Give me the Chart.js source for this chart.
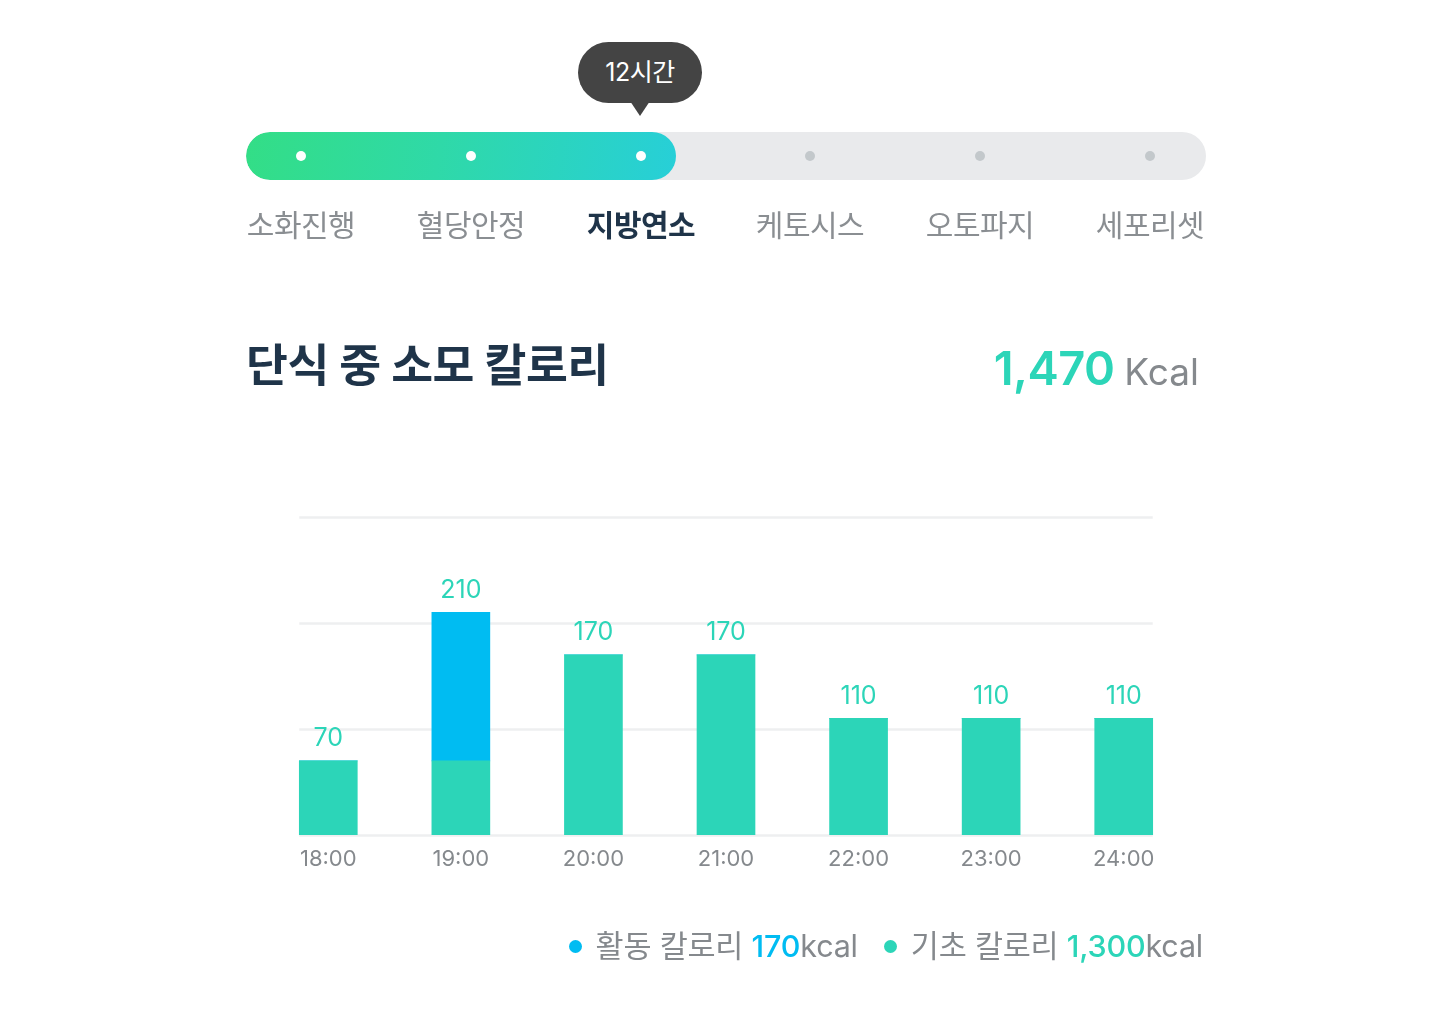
<!DOCTYPE html>
<html lang="ko">
<head>
<meta charset="utf-8">
<script src="https://cdn.jsdelivr.net/npm/chart.js@4/dist/chart.umd.min.js"></script>
<style>
  html,body{margin:0;padding:0;background:#fff;}
  body{width:1452px;height:1020px;position:relative;overflow:hidden;font-family:"Inter","Noto Sans CJK KR","Noto Sans",sans-serif;}
  #wrap{position:absolute;left:0;top:0;width:1452px;height:1020px;}
  .abs{position:absolute;}
  #bubble{left:578px;top:42px;width:124px;height:61px;border-radius:31px;background:#444;color:#fff;font-size:25px;line-height:61px;text-align:center;letter-spacing:-0.5px;}
  #arrow{left:630px;top:101px;width:0;height:0;border-left:10px solid transparent;border-right:10px solid transparent;border-top:15px solid #444;}
  #track{left:246px;top:132px;width:960px;height:48px;border-radius:24px;background:#e9eaec;overflow:hidden;}
  #fill{left:0;top:0;height:48px;border-radius:24px;background:linear-gradient(100deg,#33de86 0%,#2fd9a8 45%,#27cfd8 100%);}
  .dot{width:10px;height:10px;border-radius:50%;top:151px;}
  .stage{top:204px;font-size:30px;line-height:42px;color:#8a8e92;transform:translateX(-50%);white-space:nowrap;letter-spacing:-0.5px;}
  .stage.on{color:#1f3449;font-weight:700;}
  #title{left:246px;top:336px;font-size:45.5px;font-weight:700;color:#1f3449;line-height:60px;letter-spacing:-0.4px;}
  #total{right:253px;top:336px;line-height:64px;white-space:nowrap;}
  #total .num{font-size:47px;font-weight:600;color:#2cd5b8;letter-spacing:-0.6px;}
  #total .unit{font-size:37px;color:#85898d;margin-left:10px;}
  #legend{right:249px;top:924px;font-size:30.5px;line-height:44px;color:#85898d;white-space:nowrap;letter-spacing:-0.2px;}
  #legend .ld{display:inline-block;width:13px;height:13px;border-radius:50%;margin-right:14px;vertical-align:4px;}
  #legend .v{font-weight:500;}
</style>
</head>
<body>
<div id="wrap">
  <canvas id="c" width="1452" height="1020"></canvas>
</div>
<div id="bubble" class="abs"></div>
<div id="arrow" class="abs"></div>
<div id="track" class="abs"><div id="fill" class="abs"></div></div>
<div id="title" class="abs">단식 중 소모 칼로리</div>
<div id="total" class="abs"></div>
<div id="legend" class="abs"></div>
<script>
// ---- data ----
const stages = ['소화진행','혈당안정','지방연소','케토시스','오토파지','세포리셋'];
const activeStage = 2;
const elapsedLabel = '12시간';
const categories = ['18:00','19:00','20:00','21:00','22:00','23:00','24:00'];
const basalValues = [70, 70, 170, 170, 110, 110, 110];
const activeValues = [0, 140, 0, 0, 0, 0, 0];
const yTicks = [0, 100, 200, 300];
const totalKcal = '1,470';
const activeKcal = '170';
const basalKcal = '1,300';

const TEAL = '#2cd5b8', BLUE = '#00bcf2';
const FONT = '"Inter", "Noto Sans CJK KR", "Noto Sans", sans-serif';

// ---- progress header ----
const stageX = [301, 471, 641, 810, 980, 1150];
document.getElementById('bubble').textContent = elapsedLabel;
document.getElementById('fill').style.width = (676 - 246) + 'px';
stages.forEach((s, i) => {
  const d = document.createElement('div');
  d.className = 'abs dot';
  d.style.left = (stageX[i] - 5) + 'px';
  d.style.background = i <= activeStage ? '#ffffff' : '#c3c8cb';
  document.body.appendChild(d);
  const t = document.createElement('div');
  t.className = 'abs stage' + (i === activeStage ? ' on' : '');
  t.style.left = stageX[i] + 'px';
  t.textContent = s;
  document.body.appendChild(t);
});
document.getElementById('total').innerHTML = '<span class="num">' + totalKcal + '</span><span class="unit">Kcal</span>';
document.getElementById('legend').innerHTML =
  '<span class="ld" style="background:' + BLUE + '"></span>활동 칼로리 <span class="v" style="color:' + BLUE + '">' + activeKcal + '</span>kcal' +
  '<span style="display:inline-block;width:26px"></span>' +
  '<span class="ld" style="background:' + TEAL + '"></span>기초 칼로리 <span class="v" style="color:' + TEAL + '">' + basalKcal + '</span>kcal';

// ---- chart ----
const BAR_W = 58;
const gridPlugin = {
  id: 'gridAndLabels',
  beforeDatasetsDraw(chart) {
    const ctx = chart.ctx, x = chart.scales.x, y = chart.scales.y;
    const l = x.getPixelForValue(0) - BAR_W / 2;
    const r = x.getPixelForValue(categories.length - 1) + BAR_W / 2;
    ctx.save();
    ctx.strokeStyle = '#eeeff0';
    ctx.lineWidth = 2.5;
    yTicks.forEach(v => {
      const py = Math.round(y.getPixelForValue(v)) + 0.5;
      ctx.beginPath(); ctx.moveTo(l, py); ctx.lineTo(r, py); ctx.stroke();
    });
    ctx.restore();
  },
  afterDatasetsDraw(chart) {
    const ctx = chart.ctx, x = chart.scales.x, y = chart.scales.y;
    ctx.save();
    ctx.fillStyle = TEAL;
    ctx.font = '25px ' + FONT;
    ctx.textAlign = 'center';
    ctx.textBaseline = 'middle';
    categories.forEach((c, i) => {
      const tot = basalValues[i] + activeValues[i];
      ctx.fillText(String(tot), x.getPixelForValue(i), y.getPixelForValue(tot) - 22);
    });
    ctx.restore();
  }
};

new Chart(document.getElementById('c'), {
  type: 'bar',
  data: {
    labels: categories,
    datasets: [
      { label: '기초 칼로리', data: basalValues, backgroundColor: TEAL, barThickness: BAR_W, borderWidth: 0 },
      { label: '활동 칼로리', data: activeValues, backgroundColor: BLUE, barThickness: BAR_W, borderWidth: 0 }
    ]
  },
  plugins: [gridPlugin],
  options: {
    responsive: false,
    animation: false,
    events: [],
    layout: { padding: { left: 262, right: 262, top: 517, bottom: 135 } },
    plugins: { legend: { display: false }, tooltip: { enabled: false } },
    scales: {
      x: {
        stacked: true,
        offset: true,
        grid: { display: false, drawTicks: false },
        border: { display: false },
        ticks: { color: '#85898d', padding: 11, font: { size: 22, family: FONT } },
        afterFit(s) { s.height = 50; }
      },
      y: {
        stacked: true,
        display: false,
        min: 0, max: 300,
        ticks: { stepSize: 100 }
      }
    }
  }
});
</script>
</body>
</html>
